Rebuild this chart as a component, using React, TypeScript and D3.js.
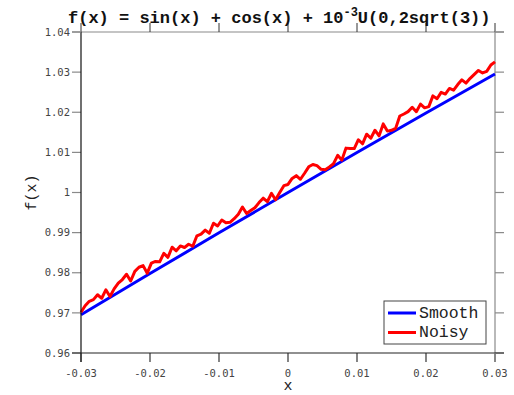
import React from 'react';
import * as d3 from 'd3';

// tick labels
const xTickValues = [-0.03, -0.02, -0.01, 0, 0.01, 0.02, 0.03];
const xTickLabels = ['-0.03', '-0.02', '-0.01', '0', '0.01', '0.02', '0.03'];
const yTickValues = [0.96, 0.97, 0.98, 0.99, 1.0, 1.01, 1.02, 1.03, 1.04];
const yTickLabels = ['0.96', '0.97', '0.98', '0.99', '1', '1.01', '1.02', '1.03', '1.04'];

// smooth series: sin(x) + cos(x)
const smoothX = [-0.03, -0.02, -0.01, 0, 0.01, 0.02, 0.03];
const smoothY = [0.96955, 0.9798, 0.98995, 1.0, 1.00995, 1.0198, 1.02955];

// noisy series
const noisyX = [
  -0.03, -0.0294, -0.0288, -0.0282, -0.0276, -0.027, -0.0264, -0.0258, -0.0252, -0.0246,
  -0.024, -0.0234, -0.0228, -0.0222, -0.0216, -0.021, -0.0204, -0.0198, -0.0192, -0.0186,
  -0.018, -0.0174, -0.0168, -0.0162, -0.0156, -0.015, -0.0144, -0.0138, -0.0132, -0.0126,
  -0.012, -0.0114, -0.0108, -0.0102, -0.0096, -0.009, -0.0084, -0.0078, -0.0072, -0.0066,
  -0.006, -0.0054, -0.0048, -0.0042, -0.0036, -0.003, -0.0024, -0.0018, -0.0012, -0.0006,
  0, 0.0006, 0.0012, 0.0018, 0.0024, 0.003, 0.0036, 0.0042, 0.0048, 0.0054,
  0.006, 0.0066, 0.0072, 0.0078, 0.0084, 0.009, 0.0096, 0.0102, 0.0108, 0.0114,
  0.012, 0.0126, 0.0132, 0.0138, 0.0144, 0.015, 0.0156, 0.0162, 0.0168, 0.0174,
  0.018, 0.0186, 0.0192, 0.0198, 0.0204, 0.021, 0.0216, 0.0222, 0.0228, 0.0234,
  0.024, 0.0246, 0.0252, 0.0258, 0.0264, 0.027, 0.0276, 0.0282, 0.0288, 0.0294,
  0.03,
];
const noisyY = [
  0.97015, 0.97177, 0.97289, 0.9733, 0.97452, 0.97364, 0.97575, 0.97407, 0.97598, 0.9774,
  0.97831, 0.97963, 0.97794, 0.98035, 0.98137, 0.98178, 0.97989, 0.9824, 0.98282, 0.98273,
  0.98484, 0.98385, 0.98636, 0.98547, 0.98668, 0.98629, 0.9871, 0.9866, 0.98921, 0.98962,
  0.99063, 0.98984, 0.99234, 0.99165, 0.99315, 0.99246, 0.99257, 0.99347, 0.99457, 0.99638,
  0.99478, 0.99549, 0.99619, 0.99749, 0.99859, 0.9977, 0.9998, 0.9982, 1.0, 1.0017,
  1.002, 1.0035, 1.0042, 1.0033, 1.0048, 1.0064, 1.00699, 1.00669, 1.00579, 1.00569,
  1.00638, 1.00718, 1.00927, 1.00807, 1.01106, 1.01096, 1.01095, 1.01315, 1.01214, 1.01453,
  1.01353, 1.01552, 1.01411, 1.0171, 1.0153, 1.01549, 1.01598, 1.01907, 1.01956, 1.02015,
  1.02124, 1.02013, 1.02202, 1.0211, 1.02139, 1.02408, 1.02337, 1.02495, 1.02454, 1.02593,
  1.02551, 1.0269, 1.02808, 1.02727, 1.02845, 1.02944, 1.03042, 1.0298, 1.03019, 1.03177,
  1.03255,
];

const seriesNames = ['Smooth', 'Noisy'];
const seriesColors = ['#0000ff', '#ff0000'];

const W = 514;
const H = 395;
const margin = { top: 32, right: 19, bottom: 42, left: 81 };
const tick = 9;
const mono = "'Liberation Mono', 'DejaVu Sans Mono', monospace";
const tickFont = "'DejaVu Sans Mono', monospace";

const App: React.FC = () => {
  const x = d3.scaleLinear().domain([-0.03, 0.03]).range([margin.left, W - margin.right]);
  const y = d3.scaleLinear().domain([0.96, 1.04]).range([H - margin.bottom, margin.top]);

  const line = d3
    .line<[number, number]>()
    .x((d) => x(d[0]))
    .y((d) => y(d[1]));

  const smooth = smoothX.map((v, i) => [v, smoothY[i]] as [number, number]);
  const noisy = noisyX.map((v, i) => [v, noisyY[i]] as [number, number]);

  const x0 = x(-0.03);
  const x1 = x(0.03);
  const y0 = y(0.96);
  const y1 = y(1.04);

  const lx = 384;
  const ly = 301;

  return (
    <svg width={W} height={H} style={{ position: 'absolute', left: 0, top: 0, background: '#fff' }}>
      <rect x={0} y={0} width={W} height={H} fill="#fff" />

      {/* top and right border with outward ticks */}
      <line x1={x0} x2={x1} y1={y1} y2={y1} stroke="#8a8a8a" strokeWidth={1.2} />
      <line x1={x1} x2={x1} y1={y1} y2={y0} stroke="#8a8a8a" strokeWidth={1.2} />
      {xTickValues.map((v) => (
        <line key={'tx' + v} x1={x(v)} x2={x(v)} y1={y1} y2={y1 - tick} stroke="#333" strokeWidth={1} />
      ))}
      {yTickValues.map((v) => (
        <line key={'ry' + v} x1={x1} x2={x1 + tick} y1={y(v)} y2={y(v)} stroke="#8a8a8a" strokeWidth={1.2} />
      ))}

      {/* data */}
      <path d={line(smooth) ?? ''} fill="none" stroke={seriesColors[0]} strokeWidth={3} />
      <path d={line(noisy) ?? ''} fill="none" stroke={seriesColors[1]} strokeWidth={3} strokeLinejoin="round" />

      {/* left axis */}
      {yTickValues.map((v, i) => (
        <g key={'ly' + v}>
          <line x1={x0 - tick} x2={x0} y1={y(v)} y2={y(v)} stroke="#8a8a8a" strokeWidth={1.2} />
          <text
            x={x0 - tick - 2}
            y={y(v)}
            dy="0.35em"
            textAnchor="end"
            fontFamily={tickFont}
            fontSize={10.5}
            fill="#444"
          >
            {yTickLabels[i]}
          </text>
        </g>
      ))}
      <line x1={x0} x2={x0} y1={y1} y2={y0 + tick} stroke="#111" strokeWidth={1.2} />

      {/* bottom axis */}
      {xTickValues.map((v, i) => (
        <g key={'bx' + v}>
          <line x1={x(v)} x2={x(v)} y1={y0} y2={y0 + tick} stroke="#333" strokeWidth={1.2} />
          <text x={x(v)} y={y0 + 24} textAnchor="middle" fontFamily={tickFont} fontSize={10.5} fill="#444">
            {xTickLabels[i]}
          </text>
        </g>
      ))}
      <line x1={x0 - tick} x2={x1 + tick} y1={y0} y2={y0} stroke="#222" strokeWidth={1.2} />
      <line x1={x0 - tick} x2={x0} y1={y1} y2={y1} stroke="#8a8a8a" strokeWidth={1.2} />
      <line x1={x1} x2={x1 + tick} y1={y1} y2={y1} stroke="#8a8a8a" strokeWidth={1.2} />
      <line x1={x1} x2={x1} y1={y0} y2={y0 + tick} stroke="#8a8a8a" strokeWidth={1.2} />

      {/* axis titles */}
      <text x={(x0 + x1) / 2} y={390} textAnchor="middle" fontFamily={mono} fontSize={15} fill="#222">
        x
      </text>
      <text
        transform={`translate(36,${(y0 + y1) / 2}) rotate(-90)`}
        textAnchor="middle"
        fontFamily={mono}
        fontSize={15}
        fill="#222"
      >
        f(x)
      </text>

      {/* title */}
      <text x={68} y={23} fontFamily={mono} fontWeight="bold" fontSize={17} fill="#111">
        f(x) = sin(x) + cos(x) + 10
        <tspan fontSize={12} dy={-7}>
          -3
        </tspan>
        <tspan dy={7}>U(0,2sqrt(3))</tspan>
      </text>

      {/* legend */}
      <rect x={lx} y={ly} width={102} height={43} fill="#fff" stroke="#444" strokeWidth={1} />
      {seriesNames.map((name, i) => (
        <g key={name}>
          <line
            x1={lx + 4}
            x2={lx + 32}
            y1={ly + 12 + i * 19.5}
            y2={ly + 12 + i * 19.5}
            stroke={seriesColors[i]}
            strokeWidth={3}
          />
          <text x={lx + 35} y={ly + 16.5 + i * 19.5} fontFamily={mono} fontSize={16.5} fill="#222">
            {name}
          </text>
        </g>
      ))}
    </svg>
  );
};

export default App;
